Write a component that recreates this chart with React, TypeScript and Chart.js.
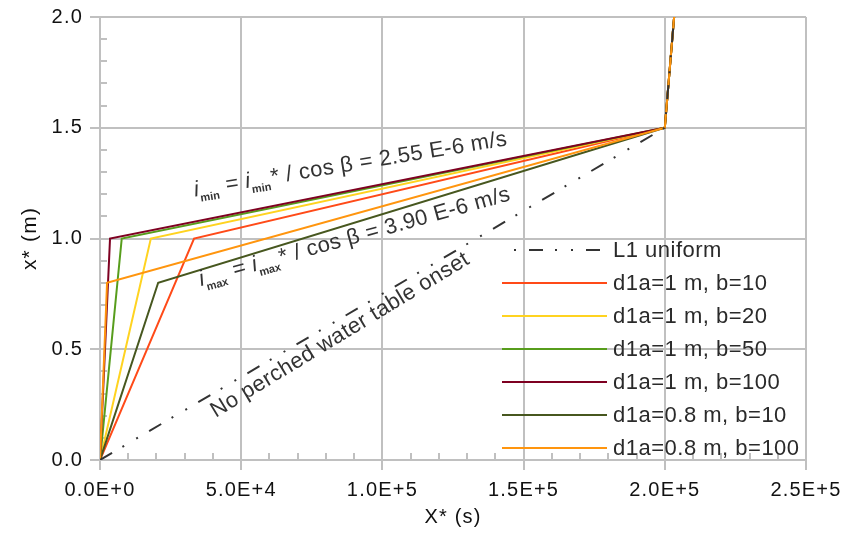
import React, { useEffect, useRef } from "react";
import { Chart, registerables } from "chart.js";

Chart.register(...registerables);

// ---- axis settings ----
const X_MIN = 0;
const X_MAX = 250000;
const X_STEP = 50000;
const X_MINOR = 10000;
const Y_MIN = 0;
const Y_MAX = 2.0;
const Y_STEP = 0.5;
const Y_MINOR = 0.1;
const X_TITLE = "X* (s)";
const Y_TITLE = "x* (m)";

// ---- L1 uniform reference line ----
const L1_LABEL = "L1 uniform";
const L1_X = [0, 200000, 203300];
const L1_Y = [0, 1.5, 2.0];

// ---- series ----
const SERIES_LABELS = [
  "d1a=1 m, b=10",
  "d1a=1 m, b=20",
  "d1a=1 m, b=50",
  "d1a=1 m, b=100",
  "d1a=0.8 m, b=10",
  "d1a=0.8 m, b=100",
];
const SERIES_COLORS = ["#ff4a18", "#ffd320", "#579d1c", "#7e0021", "#47571f", "#ff950e"];
const START_X = [0, 0, 0, 0, 0, 0];
const START_Y = [0, 0, 0, 0, 0, 0];
const KNEE_X = [33300, 18000, 7700, 3550, 20600, 2500];
const KNEE_Y = [1.0, 1.0, 1.0, 1.0, 0.8, 0.8];
const JOIN_X = [200000, 200000, 200000, 200000, 200000, 200000];
const JOIN_Y = [1.5, 1.5, 1.5, 1.5, 1.5, 1.5];
const TOP_X = [203300, 203300, 203300, 203300, 203300, 203300];
const TOP_Y = [2.0, 2.0, 2.0, 2.0, 2.0, 2.0];
const SERIES_ORDER = [6, 5, 4, 3, 2, 1];

// ---- annotations (anchor in data units) ----
const FONT = '"Liberation Sans", Arial, sans-serif';
const NOTE_X = [33600, 35800, 41000];
const NOTE_Y = [1.19, 0.785, 0.19];
const NOTE_ANGLE = [-9.3, -15.5, -31.3];
type Part = { t: string; style: "n" | "i" | "s" };
const NOTE_PARTS: Part[][] = [
  [
    { t: "i", style: "i" },
    { t: "min", style: "s" },
    { t: " = ", style: "n" },
    { t: "i", style: "i" },
    { t: "min", style: "s" },
    { t: "* / cos β = 2.55 E-6 m/s", style: "n" },
  ],
  [
    { t: "i", style: "i" },
    { t: "max", style: "s" },
    { t: " = ", style: "n" },
    { t: "i", style: "i" },
    { t: "max", style: "s" },
    { t: "* / cos β = 3.90 E-6 m/s", style: "n" },
  ],
  [{ t: "No perched water table onset", style: "n" }],
];

const GRID_COLOR = "#c0c0c0";
const TEXT_COLOR = "#111111";
const L1_DASH = [14, 12, 2, 14, 2, 13];

const spacing = {
  id: "spacing",
  beforeLayout(chart: any) {
    chart.ctx.letterSpacing = "1.2px";
  },
  beforeDraw(chart: any) {
    chart.ctx.letterSpacing = "1.2px";
  },
};

const minorTicks = {
  id: "minorTicks",
  beforeDatasetsDraw(chart: any) {
    const { ctx, chartArea, scales } = chart;
    ctx.save();
    ctx.strokeStyle = GRID_COLOR;
    ctx.lineWidth = 2;
    ctx.beginPath();
    for (let v = X_MIN + X_MINOR; v < X_MAX; v += X_MINOR) {
      if (Math.abs(v / X_STEP - Math.round(v / X_STEP)) < 1e-6) continue;
      const px = Math.round(scales.x.getPixelForValue(v));
      ctx.moveTo(px, chartArea.bottom);
      ctx.lineTo(px, chartArea.bottom - 7);
    }
    for (let i = 1; i * Y_MINOR < Y_MAX - 1e-9; i++) {
      const v = i * Y_MINOR;
      if (Math.abs(v / Y_STEP - Math.round(v / Y_STEP)) < 1e-6) continue;
      const py = Math.round(scales.y.getPixelForValue(v));
      ctx.moveTo(chartArea.left, py);
      ctx.lineTo(chartArea.left + 7, py);
    }
    ctx.stroke();
    ctx.restore();
  },
};

const notesPlugin = {
  id: "notes",
  afterDatasetsDraw(chart: any) {
    const { ctx, scales } = chart;
    ctx.save();
    ctx.fillStyle = "#333333";
    ctx.textBaseline = "alphabetic";
    ctx.textAlign = "left";
    NOTE_PARTS.forEach((parts, k) => {
      const x = scales.x.getPixelForValue(NOTE_X[k]);
      const y = scales.y.getPixelForValue(NOTE_Y[k]);
      ctx.save();
      ctx.translate(x, y);
      ctx.rotate((NOTE_ANGLE[k] * Math.PI) / 180);
      let cx = 0;
      for (const p of parts) {
        let dy = 0;
        if (p.style === "i") {
          ctx.font = `italic 22px ${FONT}`;
          ctx.letterSpacing = "0.4px";
        } else if (p.style === "s") {
          ctx.font = `bold 11px ${FONT}`;
          ctx.letterSpacing = "0px";
          dy = 6;
        } else {
          ctx.font = `22px ${FONT}`;
          ctx.letterSpacing = "0.4px";
        }
        ctx.fillText(p.t, cx, dy);
        cx += ctx.measureText(p.t).width + (p.style === "s" ? 1 : 0);
      }
      ctx.restore();
    });
    ctx.restore();
  },
};

const legendPlugin = {
  id: "customLegend",
  afterDatasetsDraw(chart: any) {
    const { ctx, chartArea } = chart;
    const left = chartArea.right - 304;
    const top = chartArea.bottom - 210;
    const rowH = 33;
    const sampleW = 105;
    ctx.save();
    ctx.font = `22px ${FONT}`;
    ctx.letterSpacing = "0.5px";
    ctx.textBaseline = "middle";
    ctx.textAlign = "left";
    chart.data.datasets.forEach((ds: any, i: number) => {
      const y = Math.round(top + i * rowH);
      ctx.strokeStyle = ds.borderColor;
      ctx.lineWidth = 2;
      ctx.setLineDash(ds.borderDash || []);
      ctx.lineDashOffset = ds.borderDash ? 30 : 0;
      ctx.beginPath();
      ctx.moveTo(left, y);
      ctx.lineTo(left + sampleW, y);
      ctx.stroke();
      ctx.setLineDash([]);
      ctx.fillStyle = "#2a2a2a";
      ctx.fillText(ds.label, left + sampleW + 6, y + 1);
    });
    ctx.restore();
  },
};

export default function App() {
  const ref = useRef<HTMLCanvasElement | null>(null);
  useEffect(() => {
    if (!ref.current) return;
    const datasets: any[] = [
      {
        label: L1_LABEL,
        data: L1_X.map((x, i) => ({ x, y: L1_Y[i] })),
        borderColor: "#333333",
        borderWidth: 2,
        borderDash: L1_DASH,
        pointRadius: 0,
        order: 0,
      },
      ...SERIES_LABELS.map((label, i) => ({
        label,
        data: [
          { x: START_X[i], y: START_Y[i] },
          { x: KNEE_X[i], y: KNEE_Y[i] },
          { x: JOIN_X[i], y: JOIN_Y[i] },
          { x: TOP_X[i], y: TOP_Y[i] },
        ],
        borderColor: SERIES_COLORS[i],
        borderWidth: 2,
        pointRadius: 0,
        order: SERIES_ORDER[i],
      })),
    ];
    const chart = new Chart(ref.current, {
      type: "line",
      data: { datasets },
      plugins: [spacing, minorTicks, notesPlugin, legendPlugin],
      options: {
        responsive: false,
        animation: false,
        layout: { padding: { left: 0, right: 38, top: 17, bottom: 0 } },
        plugins: { legend: { display: false }, tooltip: { enabled: false } },
        scales: {
          x: {
            type: "linear",
            min: X_MIN,
            max: X_MAX,
            afterFit: (s: any) => {
              s.height = 74;
              s.paddingLeft = 0;
              s.paddingRight = 0;
            },
            ticks: {
              stepSize: X_STEP,
              color: TEXT_COLOR,
              font: { family: FONT, size: 20 },
              padding: 8,
              maxRotation: 0,
              callback: (v: any) => Number(v).toExponential(1).toUpperCase(),
            },
            grid: { color: GRID_COLOR, lineWidth: 2, tickLength: 10 },
            border: { color: GRID_COLOR, width: 2 },
            title: {
              display: true,
              text: X_TITLE,
              color: TEXT_COLOR,
              font: { family: FONT, size: 20 },
              padding: { top: 2, bottom: 5 },
            },
          },
          y: {
            type: "linear",
            min: Y_MIN,
            max: Y_MAX,
            afterFit: (s: any) => {
              s.width = 100;
              s.paddingTop = 0;
              s.paddingBottom = 0;
            },
            ticks: {
              stepSize: Y_STEP,
              color: TEXT_COLOR,
              font: { family: FONT, size: 20 },
              padding: 7,
              callback: (v: any) => Number(v).toFixed(1),
            },
            grid: { color: GRID_COLOR, lineWidth: 2, tickLength: 10 },
            border: { color: GRID_COLOR, width: 2 },
            title: {
              display: true,
              text: Y_TITLE,
              color: TEXT_COLOR,
              font: { family: FONT, size: 21 },
              padding: { top: 18, bottom: 0 },
            },
          },
        },
      },
    });
    return () => chart.destroy();
  }, []);
  return (
    <div style={{ position: "fixed", left: 0, top: 0, width: 844, height: 534, background: "#fff" }}>
      <canvas ref={ref} width={844} height={534} />
    </div>
  );
}
